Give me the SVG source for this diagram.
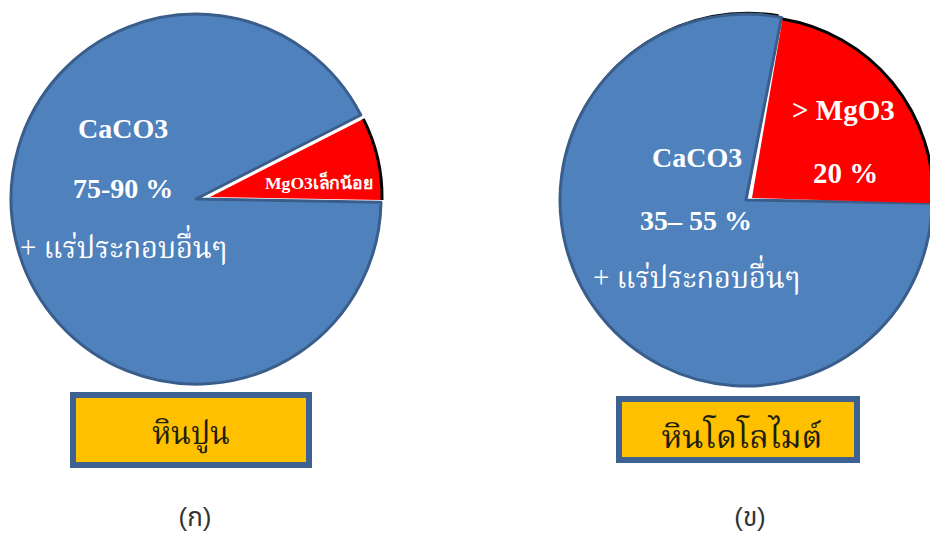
<svg xmlns="http://www.w3.org/2000/svg" width="930" height="536" viewBox="0 0 930 536">
<style>
.blue{fill:#4f81bd;stroke:#3a5e8c;stroke-width:3;stroke-linejoin:round}
.red{fill:#ff0000;stroke:none}
.rim{fill:none;stroke:#000;stroke-width:3}
.lbl{font-family:"Liberation Serif","Times New Roman",serif;font-weight:bold;fill:#fff}
.thai{font-family:"Liberation Serif","Noto Serif Thai","Noto Sans Thai",serif;fill:#fff}
.box{fill:#ffc000;stroke:#3d6190;stroke-width:6}
.btxt{font-family:"Liberation Serif","Noto Serif Thai","Noto Sans Thai",serif;fill:#1e1e10;text-anchor:middle}
.cap{font-family:"Liberation Sans","Noto Sans Thai",sans-serif;fill:#333;font-size:26px;text-anchor:middle}
</style>
<g id="pie-left">
<path class="blue" d="M196,199 L381,202.2 A185,185 0 1 1 360.8,115 Z"/>
<path class="red" d="M210,197 L363.3,118.9 A172,172 0 0 1 382,200 Z"/>
<path class="rim" d="M363.3,118.9 A172,172 0 0 1 382,200"/>
<text class="lbl" x="78" y="138" font-size="28">CaCO3</text>
<text class="lbl" x="73" y="198" font-size="28">75-90 %</text>
<text class="thai" x="20" y="258" font-size="31" textLength="207" lengthAdjust="spacingAndGlyphs">+ แร่ประกอบอื่นๆ</text>
<text class="lbl" x="265" y="189" font-size="17" textLength="108" lengthAdjust="spacingAndGlyphs">MgO3เล็กน้อย</text>
</g>
<g id="pie-right">
<path fill="none" stroke="#000" stroke-width="2" d="M566.4,151.6 A187.5,187.5 0 0 1 778.6,15.3"/>
<path class="blue" d="M746,200 L932,203.2 A186,186 0 1 1 781.5,17.4 Z"/>
<path class="red" d="M752,198 L782.5,19 A180.4,180.4 0 0 1 933.2,203.3 Z"/>
<path class="rim" d="M782.5,19 A180.4,180.4 0 0 1 933.2,203.3"/>
<text class="lbl" x="792" y="120" font-size="29">&gt; MgO3</text>
<text class="lbl" x="813" y="183" font-size="29">20 %</text>
<text class="lbl" x="652" y="167" font-size="28">CaCO3</text>
<text class="lbl" x="640" y="230" font-size="28">35– 55 %</text>
<text class="thai" x="593" y="288" font-size="31" textLength="207" lengthAdjust="spacingAndGlyphs">+ แร่ประกอบอื่นๆ</text>
</g>
<g id="box-left">
<rect class="box" x="73" y="395" width="236" height="70"/>
<text class="btxt" x="191" y="444" font-size="32" textLength="78" lengthAdjust="spacingAndGlyphs">หินปูน</text>
</g>
<g id="box-right">
<rect class="box" x="619" y="399" width="238" height="61"/>
<text class="btxt" x="742" y="448" font-size="32" textLength="161" lengthAdjust="spacingAndGlyphs">หินโดโลไมต์</text>
</g>
<g id="captions">
<text class="cap" x="195" y="526">(ก)</text>
<text class="cap" x="750" y="526">(ข)</text>
</g>
</svg>
